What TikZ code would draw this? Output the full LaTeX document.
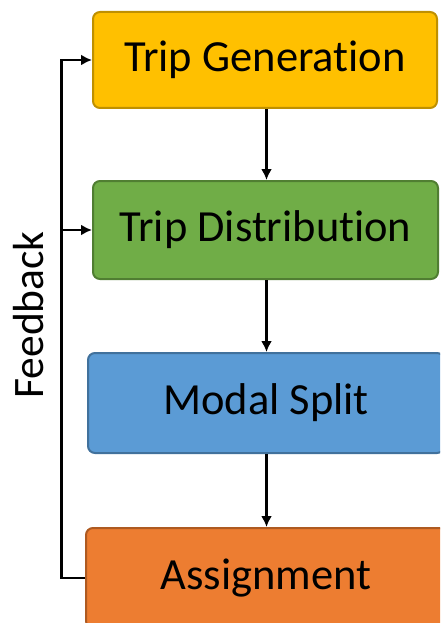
\documentclass[tikz,border=0pt]{standalone}
\usepackage{fontspec}
\setmainfont{Carlito}[Ligatures=CommonOff]
\usetikzlibrary{arrows.meta}
\definecolor{genfill}{HTML}{FFC000}
\definecolor{gendraw}{HTML}{BF9000}
\definecolor{disfill}{HTML}{70AD47}
\definecolor{disdraw}{HTML}{507E32}
\definecolor{modfill}{HTML}{5B9BD5}
\definecolor{moddraw}{HTML}{41719C}
\definecolor{asgfill}{HTML}{ED7D31}
\definecolor{asgdraw}{HTML}{AE5A21}
\begin{document}
\begin{tikzpicture}[x=1pt,y=-1pt,
  stagebox/.style={rectangle, rounded corners=7pt, line width=2pt, inner sep=0pt,
    font=\fontsize{44.5}{50}\selectfont, text=black},
  conn/.style={line width=2.2pt, draw=black},
  arr/.style={conn, -{Latex[length=11pt,width=11pt]}}]
\useasboundingbox (0,0) rectangle (440,623);
\clip (0,0) rectangle (440,623);
\fill[white] (0,0) rectangle (440,623);
\node[stagebox, fill=genfill, draw=gendraw, minimum width=344pt, minimum height=96pt] (b1) at (265,60) {Trip Generation};
\node[stagebox, fill=disfill, draw=disdraw, minimum width=345pt, minimum height=98pt] (b2) at (265.5,230) {Trip Distribution};
\node[stagebox, fill=modfill, draw=moddraw, minimum width=356pt, minimum height=100pt] (b3) at (266,403) {Modal Split};
\node[stagebox, fill=asgfill, draw=asgdraw, minimum width=360pt, minimum height=100pt] (b4) at (266,578) {Assignment};
\draw[arr] (b1.south -| 266.5,0) -- (b2.north -| 266.5,0);
\draw[arr] (b2.south -| 266.5,0) -- (b3.north -| 266.5,0);
\draw[arr] (b3.south -| 266.5,0) -- (b4.north -| 266.5,0);
\coordinate (fbb) at (61.5,578);
\coordinate (fbt) at (61.5,60);
\draw[conn, line join=miter] (b4.west) -- (fbb) -- (fbt) -- ++(1,0);
\draw[arr] (fbt) -- (b1.west);
\draw[arr] (fbb |- b2.west) -- (b2.west);
\node[rotate=90, font=\fontsize{43.5}{50}\selectfont, inner sep=0pt] (fb) at (29,315) {Feedback};
\end{tikzpicture}
\end{document}
